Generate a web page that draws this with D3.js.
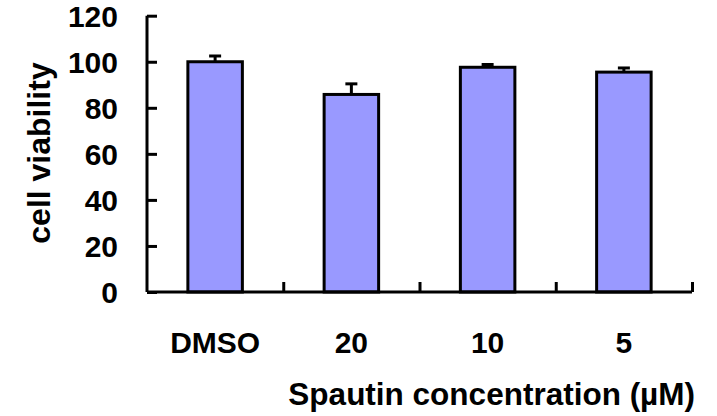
<!DOCTYPE html>
<html>
<head>
<meta charset="utf-8">
<script src="https://cdn.jsdelivr.net/npm/d3@7"></script>
<style>
  html, body { margin: 0; padding: 0; background: #fff; }
  svg text { font-family: "Liberation Sans", Arial, sans-serif; font-weight: bold; fill: #000; }
</style>
</head>
<body>
<svg id="chart" width="717" height="416"></svg>
<script>
const categories = ["DMSO", "20", "10", "5"];
const viability = [100, 85.8, 97.6, 95.5];
const errors = [2.5, 4.6, 1.2, 1.8];
const yTicks = [0, 20, 40, 60, 80, 100, 120];
const xTitle = "Spautin concentration (µM)";
const yTitle = "cell viability";

const svg = d3.select("#chart");
const x = d3.scaleBand().domain(categories).range([147, 692]).paddingInner(0.6).paddingOuter(0.3);
const y = d3.scaleLinear().domain([0, 120]).range([292, 15.7]);

// bars
svg.append("g").selectAll("rect").data(categories).join("rect")
  .attr("x", d => x(d))
  .attr("width", x.bandwidth())
  .attr("y", (d, i) => y(viability[i]))
  .attr("height", (d, i) => y(0) - y(viability[i]))
  .attr("fill", "#9999FF")
  .attr("stroke", "#000")
  .attr("stroke-width", 3);

// error bars
const eg = svg.append("g").attr("stroke", "#000").attr("stroke-width", 3);
categories.forEach((c, i) => {
  const cx = x(c) + x.bandwidth() / 2;
  eg.append("line").attr("x1", cx).attr("x2", cx)
    .attr("y1", y(viability[i])).attr("y2", y(viability[i] + errors[i]));
  eg.append("line").attr("x1", cx - 6).attr("x2", cx + 6)
    .attr("y1", y(viability[i] + errors[i])).attr("y2", y(viability[i] + errors[i]));
});

// y axis
const yAxis = svg.append("g").attr("transform", "translate(147,0)")
  .call(d3.axisRight(y).tickValues(yTicks).tickSize(10).tickFormat(""));
yAxis.select(".domain").attr("d", `M0,${y(120)}V${y(0)}`);
yAxis.selectAll("path, line").attr("stroke", "#000").attr("stroke-width", 3);
svg.append("g").selectAll("text").data(yTicks).join("text")
  .attr("x", 118).attr("y", d => y(d)).attr("dy", "0.36em")
  .attr("text-anchor", "end").style("font-size", "30px")
  .text(d => d);

// x axis
const step = x.step();
const boundaries = categories.map((c, i) => 147 + step * (i + 1));
const xl = d3.scaleLinear().domain([147, 692]).range([147, 692]);
const xAxis = svg.append("g").attr("transform", `translate(0,${y(0)})`)
  .call(d3.axisTop(xl).tickValues(boundaries).tickSize(10).tickFormat(""));
xAxis.select(".domain").attr("d", `M147,0H${boundaries[boundaries.length-1]}`);
xAxis.selectAll("path, line").attr("stroke", "#000").attr("stroke-width", 3);

svg.append("g").selectAll("text").data(categories).join("text")
  .attr("x", d => x(d) + x.bandwidth() / 2).attr("y", 353)
  .attr("text-anchor", "middle").style("font-size", "30px")
  .text(d => d);

svg.append("text").attr("x", 695).attr("y", 405).attr("text-anchor", "end")
  .style("font-size", "31.5px").text(xTitle);

svg.append("text").attr("transform", "translate(50,153) rotate(-90)")
  .attr("text-anchor", "middle").style("font-size", "32px").text(yTitle);
</script>
</body>
</html>
